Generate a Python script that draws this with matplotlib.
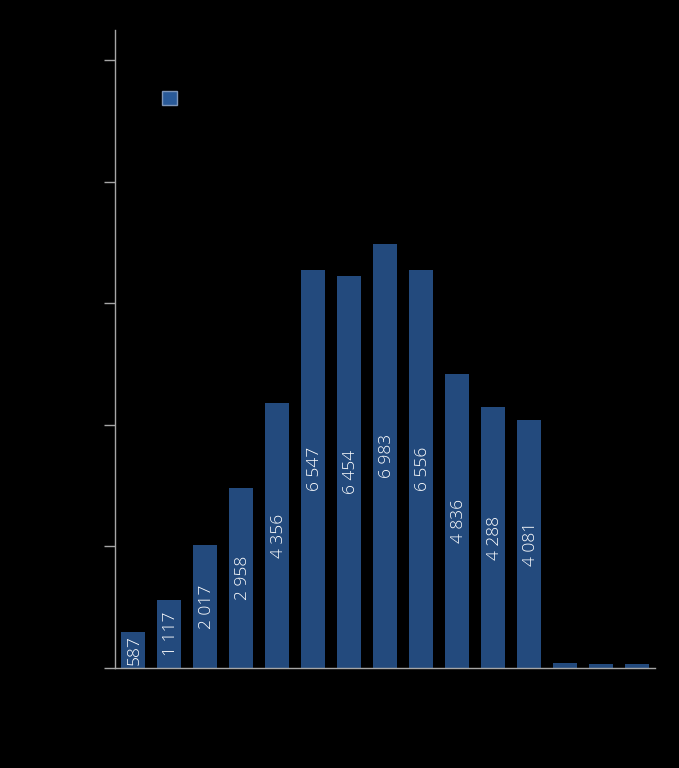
import matplotlib.pyplot as plt
import numpy as np

plt.rcParams['font.family'] = ['Open Sans', 'DejaVu Sans']

# values
categories = [str(i) for i in range(1, 16)]
values = [587, 1117, 2017, 2958, 4356, 6547, 6454, 6983, 6556, 4836, 4288, 4081, 80, 60, 60]
series_name = 'Antal'
yticks = [0, 2000, 4000, 6000, 8000, 10000]

bar_color = '#234a7d'
axis_color = '#a6a6a6'


def fmt(v):
    return f'{v:,}'.replace(',', ' ')


def main():
    fig = plt.figure(figsize=(6.79, 7.68), dpi=100, facecolor='black')
    ax = fig.add_axes([0.1694, 0.1302, 0.7953, 0.8308], facecolor='black')

    x = np.arange(len(values))
    bars = ax.bar(x, values, width=0.67, color=bar_color, label=series_name)

    for rect, v in zip(bars, values):
        if v < 500:
            continue
        ax.annotate(fmt(v), (rect.get_x() + rect.get_width() / 2, v / 2),
                    xytext=(1.5, 0), textcoords='offset points',
                    rotation=90, ha='center', va='center', color='white',
                    fontsize=12.5, fontweight='light')

    ax.set_xlim(-0.5, len(values) - 0.5)
    ax.set_ylim(0, 10500)
    ax.set_yticks(yticks)
    ax.set_yticklabels([fmt(t) for t in yticks], color='black')
    ax.set_xticks([])

    for side in ['top', 'right']:
        ax.spines[side].set_visible(False)
    for side in ['left', 'bottom']:
        ax.spines[side].set_color(axis_color)
        ax.spines[side].set_linewidth(1)
    ax.tick_params(axis='y', colors=axis_color, length=8, width=1, labelcolor='black')

    leg = ax.legend(loc='upper left', bbox_to_anchor=(0.061, 0.926), frameon=False,
                    handlelength=1.0, handleheight=1.0, fontsize=11)
    for t in leg.get_texts():
        t.set_color('black')
    for h in leg.legend_handles:
        h.set_edgecolor('#7f96b8')
        h.set_facecolor('#2a5a98')
        h.set_linewidth(1)

    fig.savefig('out.png', dpi=100, facecolor='black')


if __name__ == '__main__':
    main()
